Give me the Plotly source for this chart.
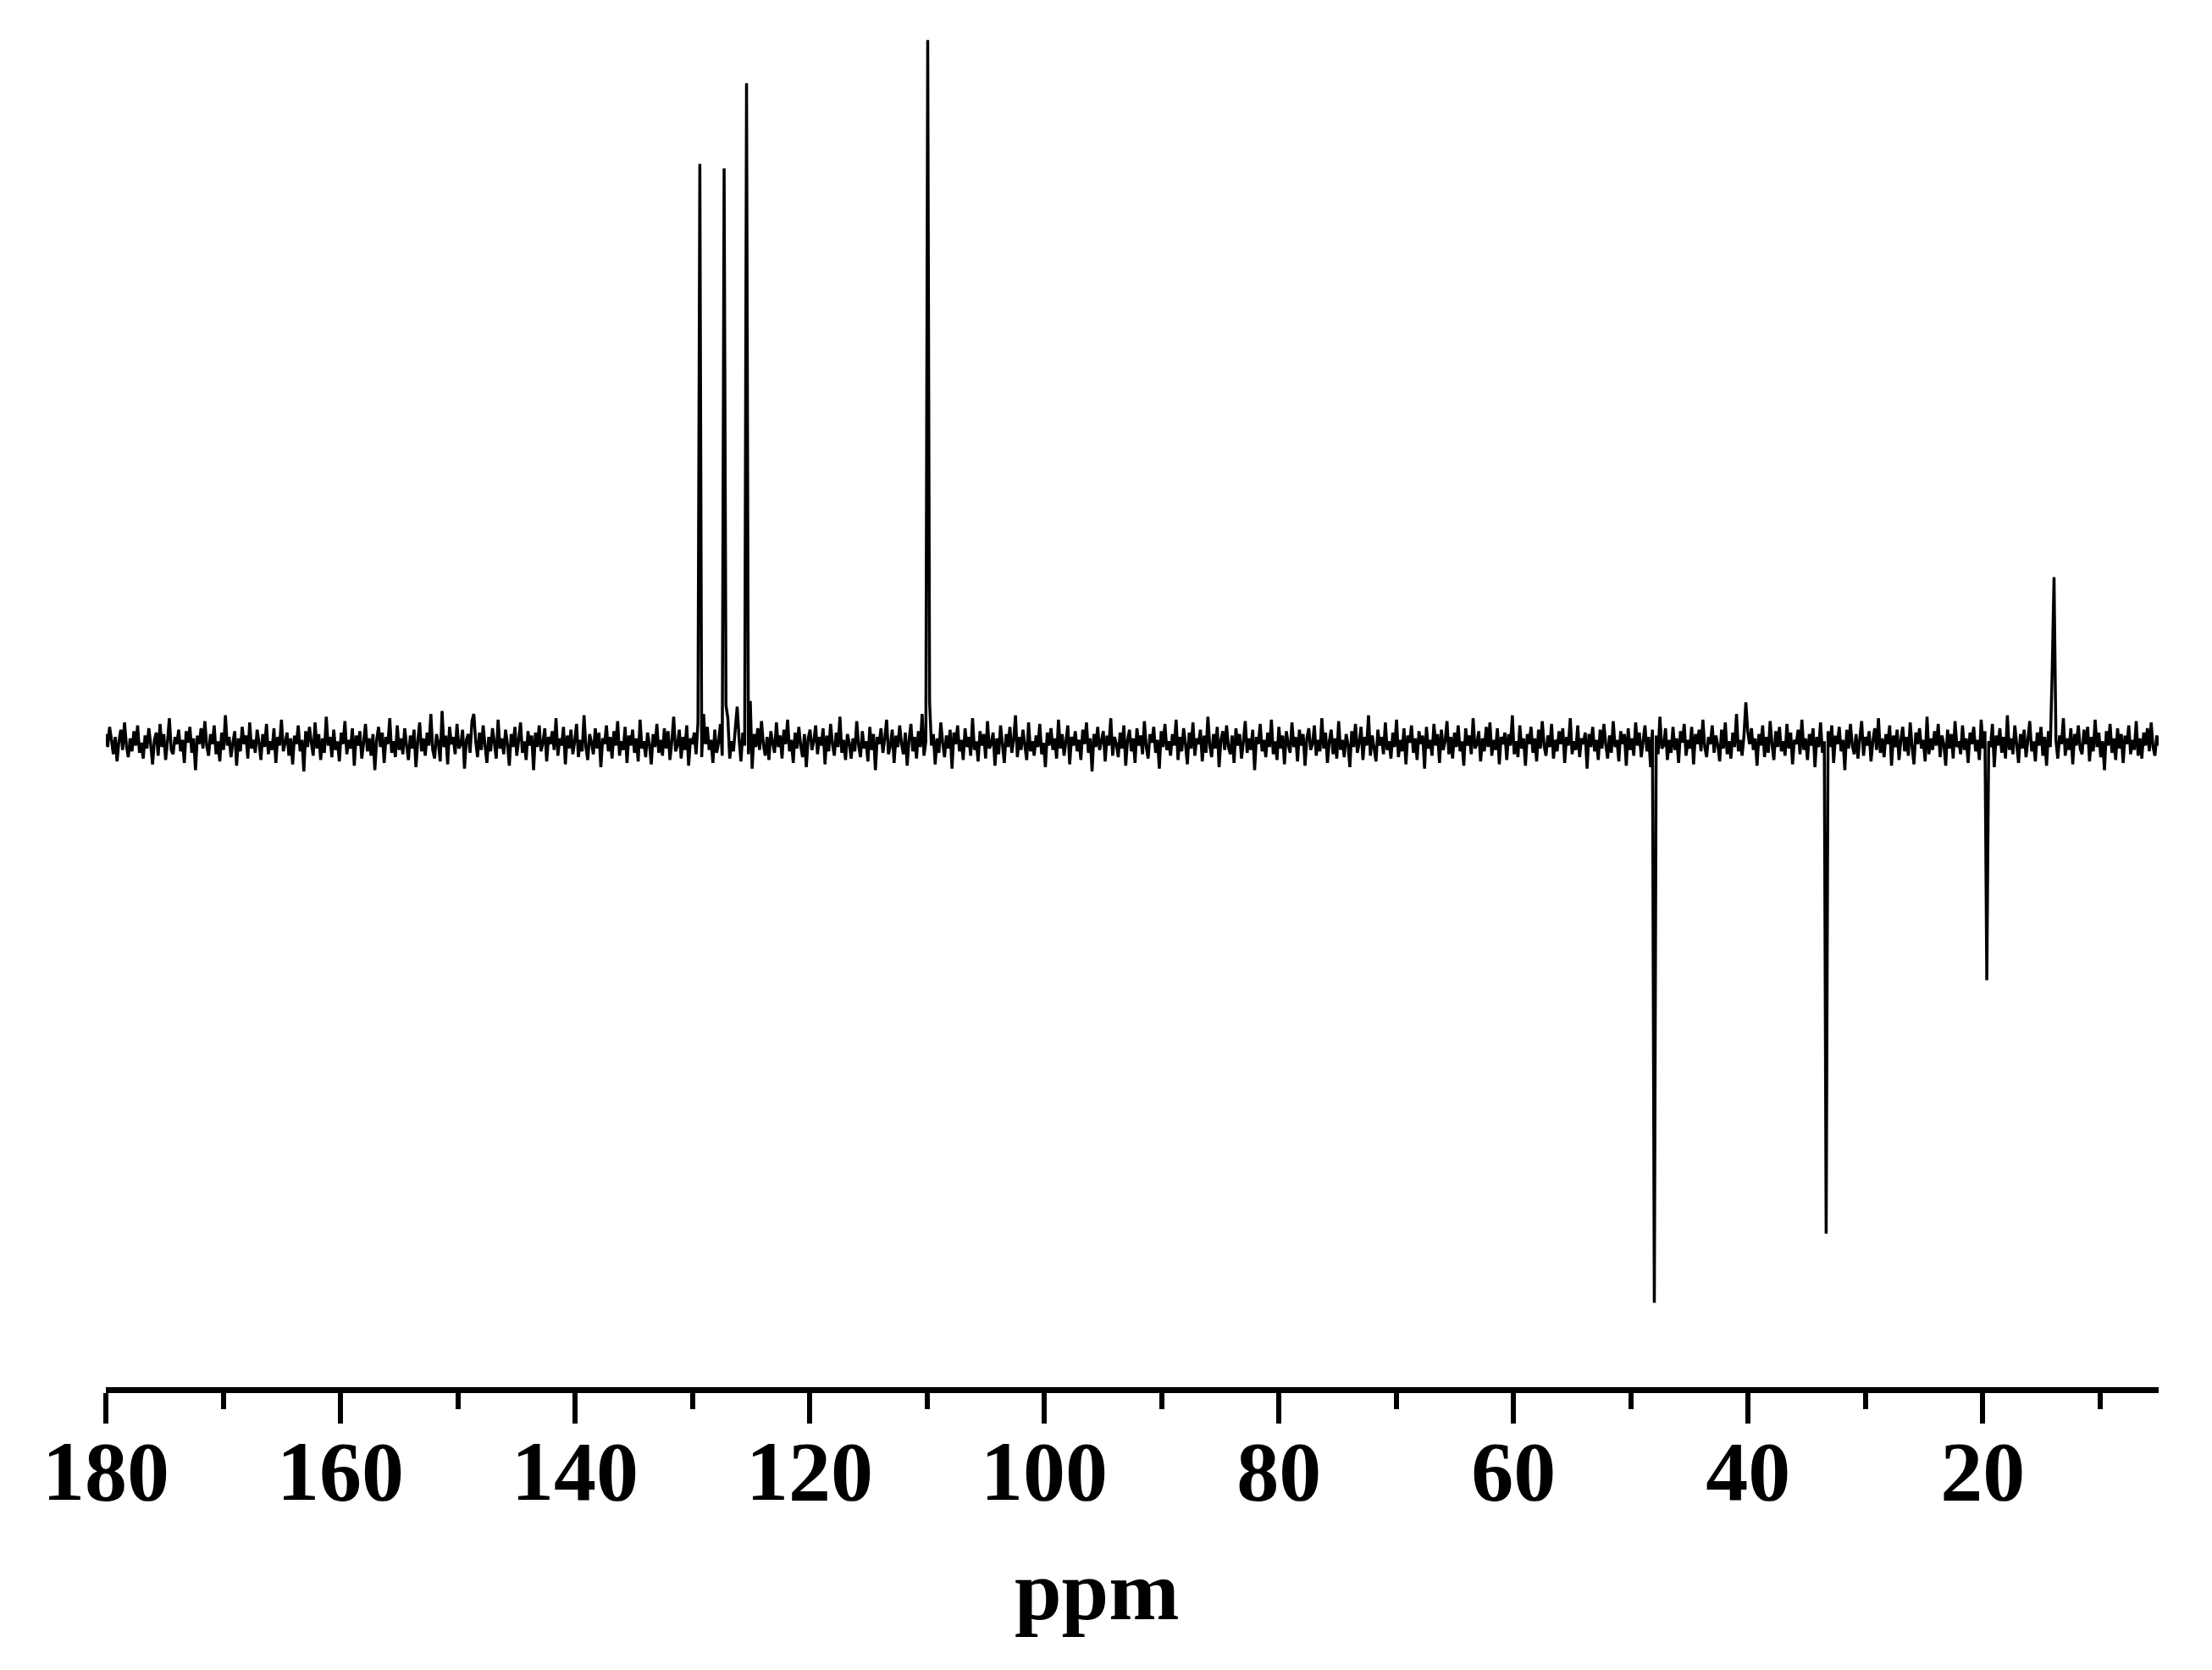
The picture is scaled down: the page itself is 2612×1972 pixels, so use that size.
import numpy as np
import plotly.graph_objects as go

# Axis ticks
major_ticks = [180, 160, 140, 120, 100, 80, 60, 40, 20]
minor_ticks = [170, 150, 130, 110, 90, 70, 50, 30, 10]
x_start, x_end = 180.0, 5.0

# Peaks (ppm, intensity in arbitrary baseline-relative units)
peak_ppm = [151.4, 148.6, 129.4, 129.0, 127.3, 127.15, 126.1, 125.4, 125.1,
            109.9, 109.75, 48.0, 40.2, 33.3, 19.6, 14.14, 13.92]
peak_int = [22, 20, 402, 20, 399, 26, 25, 458, 29,
            488, 28, -389, 28, -341, -165, 49, 115]

# Baseline noise, estimated sample by sample from 180 to 5 ppm (same units)
noise = [
 6,-3,11,2,-8,4,-13,1,9,-5,14,-2,-10,3,-6,8,-2,12,-7,0,
 -11,5,-4,10,-1,-15,2,7,-9,13,-3,6,-12,1,17,-5,-8,4,-1,9,
 -6,2,-14,8,0,11,-7,3,-19,5,-1,10,-4,15,-2,-9,6,-1,12,-8,
 1,-13,7,-5,19,-2,4,-10,0,8,-16,3,-6,11,-1,5,-11,14,-4,2,
 -7,9,0,-12,6,-3,13,-8,1,-5,10,-14,4,-2,16,-6,0,7,-9,3,
 -15,5,-1,12,-6,2,-20,8,-3,11,0,-9,14,-4,6,-12,3,-7,18,-2,
 4,-10,9,-5,1,-13,7,-1,15,-8,2,-4,10,-16,5,-2,8,-11,0,13,
 -6,3,-9,6,-19,2,11,-3,7,-14,4,-1,17,-7,1,-10,12,-5,3,-8,
 10,-2,-12,5,-4,9,-17,1,14,-6,3,-9,7,-2,20,-5,-11,6,0,-13,
 8,-3,5,-15,11,-1,4,-8,13,-4,-1,9,-18,2,6,-7,15,-3,1,-10,
 7,-5,12,-2,-14,4,-6,10,0,-11,16,-4,3,-8,9,-1,-16,6,-3,11,
 -9,2,14,-7,1,-12,8,-2,5,-19,7,-3,12,-6,0,10,-13,4,-1,8,
 -5,17,-9,3,-2,11,-15,5,-4,9,-8,1,13,-10,2,-6,19,-3,-12,6,
 0,-8,10,-4,7,-17,3,-1,12,-6,4,-11,8,-2,15,-9,1,-5,11,-14,
 5,-2,9,-7,3,-13,16,-4,1,-10,7,-1,-15,6,-3,13,-7,2,-9,10,
 -4,8,-12,1,18,-6,-2,9,-11,4,-5,12,-16,3,-1,7,-8,14,-3,-10,
 6,-1,11,-5,2,-14,9,-7,0,13,-9,4,-2,17,-11,1,-6,10,-4,3,
 -13,7,-2,12,-8,1,-18,6,-3,10,-5,15,-1,-9,4,-12,8,0,-7,14,
 -3,5,-11,9,-1,16,-6,2,-14,7,-4,11,-2,-10,6,-17,3,9,-5,1,
 12,-8,4,-2,10,-15,5,-6,13,-1,-9,7,-3,18,-7,2,-12,6,0,-11,
 3,-6,15,-2,-10,8,-4,1,-13,11,-5,6,-19,4,-1,10,-7,3,16,-8,
 -2,9,-14,5,-3,12,-1,-8,7,-16,2,13,-6,4,-11,8,-3,20,-9,1,
 -5,11,-2,6,-15,3,-7,14,0,-10,5,-4,9,-18,7,-1,12,-6,2,-12,
 10,-3,4,-9,17,-5,1,-13,8,-2,6,-11,15,-4,-1,7,-16,3,-8,12,
 -1,-14,6,-3,11,-7,2,19,-10,4,-5,9,-2,-12,14,-6,1,-9,5,-3,
 13,-8,0,-17,7,-2,10,-5,3,-11,16,-4,6,-9,1,12,-15,4,-2,8,
 -6,2,-12,9,-1,14,-7,3,-20,6,-3,11,-5,1,8,-13,5,-2,17,-9,
 4,-1,-10,7,-4,12,-16,2,9,-6,3,-14,10,-2,5,-8,15,-3,-11,6,
 0,11,-7,2,-18,8,-3,13,-5,1,-9,6,-2,16,-12,4,-6,10,-1,-15,
 7,-4,14,-9,3,-1,9,-13,5,-7,18,-2,-10,6,-4,11,-17,2,8,-5,
 12,-3,-8,5,-14,10,-2,6,-11,1,15,-7,3,-5,9,-19,4,-1,13,-6,
 2,-10,7,-3,16,-8,1,-12,11,-4,5,-15,8,-1,-7,14,-3,4,-13,9,
 -2,6,-16,3,10,-5,-1,12,-9,2,-6,17,-4,7,-14,1,9,-8,3,-11,
 15,-5,2,-10,6,-1,-17,8,-3,13,-7,0,11,-12,4,-2,19,-9,5,-4,
 -13,9,-2,4,-8,14,-5,1,-11,7,-3,16,-10,2,-6,10,-15,5,0,12,
 -7,3,-12,8,-1,5,-18,11,-4,2,-9,13,-2,6,-14,9,-5,1,15,-8,
 4,-11,7,-3,12,-6,1,-16,10,-2,5,-8,17,-4,-1,8,-13,3,-6,11,
 -3,14,-9,2,-5,10,-15,4,-1,7,-12,6,-2,19,-8,1,-10,12,-4,3,
 -16,6,-1,11,-7,3,-13,9,-4,15,-2,-9,5,-3,13,-11,2,-6,8,-1,
 10,-14,4,-2,17,-8,1,-5,12,-10,3,-1,7,-18,6,-3,11,-6,2,-12,
 9,-4,13,-1,-11,5,-7,15,-3,2,-13,8,-1,6,-16,10,-5,3,-9,14,
 -2,7,-10,1,12,-6,4,-17,9,-3,5,-8,18,-4,-2,10,-12,2,-7,11,
 -5,3,-14,8,0,13,-9,2,-4,11,-15,6,-1,9,-6,16,-3,-10,4,-1,
 12,-7,5,-2,-13,9,-4,14,-8,1,-11,7,-3,20,-6,2,-9,5,-14,8,
 -1,10,-5,3,-16,6,-2,12,-10,4,-7,15,-1,-12,8,-3,11,-6,1,-9,
 13,-4,7,-15,2,-1,9,-8,16,-5,3,-12,6,-2,10,-17,4,-3,14,-7,
 1,-10,8,-3,12,-14,5,-1,11,-6,2,-19,9,-4,13,-2,-8,6,-11,3,
 15,-9,4,-2,8,-13,1,10,-5,17,-7,3,-10,6,-1,12,-16,5,-3,9,
 -12,2,11,-6,4,-9,14,-3,-15,7,-1,10,-4,2,-13,18,-8,3,-5,8,
 -2,13,-10,5,-1,-16,9,-4,6,-11,15,-3,1,-8,12,-5,3,-14,7,-1,
 11,-6,2,-12,16,-4,8,-9,1,-3,13,-17,5,-2,10,-7,4,-11,19,-5,
 3,-8,12,-1,-14,6,-4,9,-10,2,15,-6,1,-13,7,-2,11,-9,4,-16,
 8,-3,14,-7,2,-11,5,-1,17,-9,3,-5,10,-15,6,-2,12,-4,-8,9,
 -1,11,-13,4,-6,16,-3,7,-10,1,-19,8,-2,13,-7,3,-12,10,-4,6,
 -14,5,-1,12,-8,2,-5,15,-9,3,-11,7,-2,10,-6,14,-3,-9,5,-2,
]

# Build the spectrum: baseline samples with the read peaks placed at their ppm
ppm = np.linspace(x_start, x_end, len(noise))
intensity = np.array(noise, dtype=float)
step = (x_start - x_end) / (len(noise) - 1)
for p, h in zip(peak_ppm, peak_int):
    idx = int(np.round((x_start - p) / step))
    intensity[idx] = h

fig = go.Figure(
    go.Scatter(x=ppm, y=intensity, mode="lines",
               line=dict(color="black", width=3.5, simplify=False),
               hoverinfo="skip")
)

font_family = "Liberation Serif"
fig.update_layout(
    width=2612, height=1972,
    margin=dict(l=117, r=71, t=22, b=342),
    paper_bgcolor="white", plot_bgcolor="white",
    showlegend=False,
    xaxis=dict(
        range=[x_start, x_end],
        tickmode="array", tickvals=major_ticks,
        ticktext=[str(t) for t in major_ticks],
        ticks="outside", ticklen=36, tickwidth=6, tickcolor="black",
        ticklabelstandoff=-30,
        showline=True, linewidth=7, linecolor="black",
        showgrid=False, zeroline=False,
        tickfont=dict(family=font_family, size=100, color="black", weight="bold"),
        minor=dict(tickvals=minor_ticks, ticks="outside", ticklen=19,
                   tickwidth=6, tickcolor="black", showgrid=False),
    ),
    yaxis=dict(visible=False, range=[-447.6, 498.2]),
    annotations=[dict(
        text="ppm", xref="paper", yref="paper", x=0.483, y=0,
        xanchor="center", yanchor="top", yshift=-183, showarrow=False,
        font=dict(family=font_family, size=100, color="black", weight="bold"),
    )],
)

fig.write_html("out.html")
